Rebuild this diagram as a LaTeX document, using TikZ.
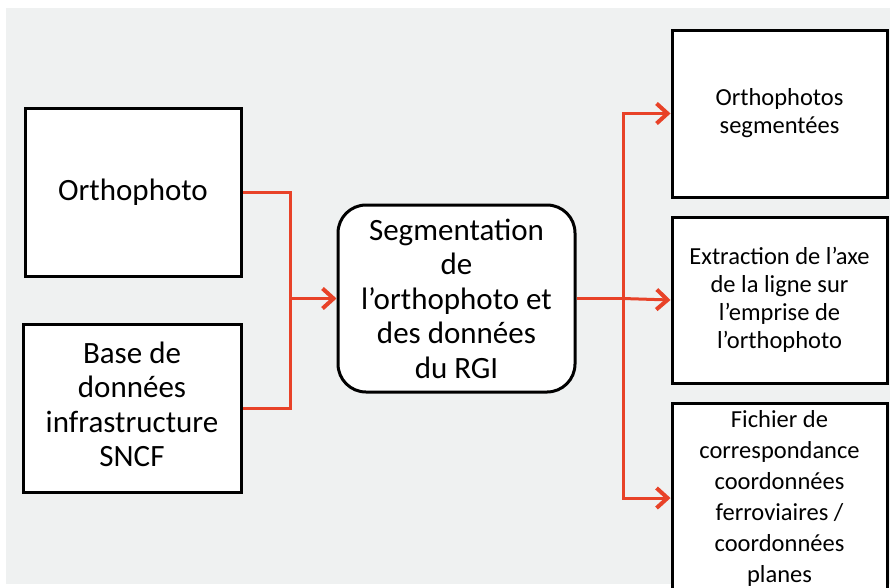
\documentclass[tikz,border=0pt]{standalone}
\usepackage{fontspec}
\setmainfont{Carlito}
\usetikzlibrary{arrows.meta}
\definecolor{bggray}{RGB}{239,241,241}
\definecolor{flowred}{RGB}{232,66,40}
\begin{document}
\begin{tikzpicture}[x=1pt,y=-1pt,
  box/.style={draw=black,line width=3pt,fill=white,rectangle,align=center,inner sep=0pt,text=black},
  bigtext/.style={font=\fontsize{31}{34.5}\selectfont},
  smalltext/.style={font=\fontsize{24.5}{28}\selectfont},
  flow/.style={draw=flowred,line width=3pt},
  flowarrow/.style={flow,-{Straight Barb[length=11pt,width=20pt,line width=4pt]}}]
\useasboundingbox (0,0) rectangle (890,587);
\clip (0,0) rectangle (890,587);
\fill[bggray] (6,8) rectangle (890,584);
\node[box,bigtext,minimum width=216pt,minimum height=168pt] (ortho) at (133,192) {Orthophoto};
\node[box,bigtext,minimum width=218pt,minimum height=168pt] (base) at (132,408) {\raisebox{5pt}{\begin{tabular}{@{}c@{}}Base de\\données\\infrastructure\\SNCF\end{tabular}}};
\node[box,bigtext,rounded corners=28pt,minimum width=237pt,minimum height=187pt] (seg) at (456.5,298.5) {Segmentation\\de\\l’orthophoto et\\des données\\du RGI};
\node[box,smalltext,minimum width=215pt,minimum height=167pt] (out1) at (779.5,113.5) {Orthophotos\\segmentées};
\node[box,smalltext,minimum width=215pt,minimum height=166pt] (out2) at (779.5,300) {Extraction de l’axe\\de la ligne sur\\l’emprise de\\l’orthophoto};
\node[box,font=\fontsize{24.5}{31}\selectfont,minimum width=215pt,minimum height=190pt] (out3) at (779.5,498) {Fichier de\\correspondance\\coordonnées\\ferroviaires /\\coordonnées\\planes};
\coordinate (j1) at (290,298.5);
\coordinate (j2) at (623,298.5);
\draw[flow] (ortho.east) -| (j1) |- (base.east);
\draw[flowarrow] (j1) -- (seg.west);
\draw[flow] (seg.east) -- (j2);
\draw[flowarrow] (j2) |- (out1.west);
\draw[flowarrow] (j2) -- (out2.west);
\draw[flowarrow] (j2) |- (out3.west);
\end{tikzpicture}
\end{document}
